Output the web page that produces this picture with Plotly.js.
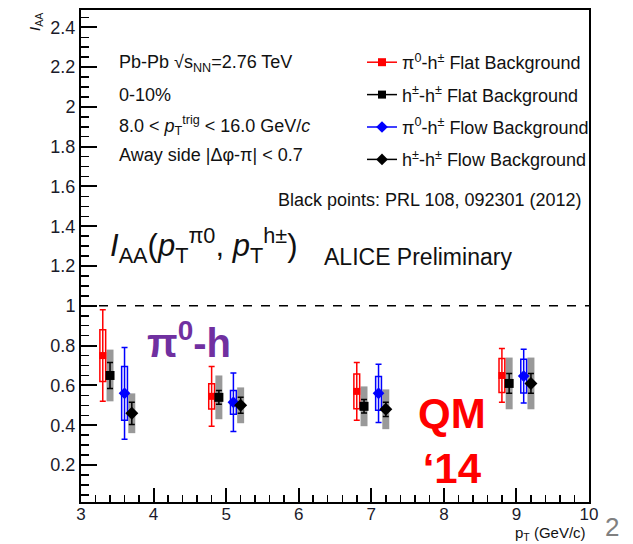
<!DOCTYPE html>
<html>
<head>
<meta charset="utf-8">
<script src="https://cdn.plot.ly/plotly-3.0.1.min.js"></script>
<style>html,body{margin:0;padding:0;background:#fff;}#plot{width:633px;height:544px;}</style>
</head>
<body>
<div id="plot"></div>
<script>
// ---- data ----
const xPiFlat = [3.3, 4.8, 6.8, 8.8];
const yPiFlat = [0.75, 0.545, 0.57, 0.650];
const statPiFlat = [0.23, 0.15, 0.145, 0.135];
const sysPiFlat = [0.13, 0.063, 0.087, 0.085];

const xHFlat = [3.4, 4.9, 6.9, 8.9];
const yHFlat = [0.65, 0.54, 0.495, 0.61];
const statHFlat = [0.065, 0.035, 0.034, 0.05];
const sysHFlat = [0.13, 0.11, 0.10, 0.13];

const xPiFlow = [3.6, 5.1, 7.1, 9.1];
const yPiFlow = [0.56, 0.515, 0.56, 0.647];
const statPiFlow = [0.23, 0.147, 0.147, 0.135];
const sysPiFlow = [0.135, 0.06, 0.085, 0.085];

const xHFlow = [3.7, 5.2, 7.2, 9.2];
const yHFlow = [0.46, 0.50, 0.48, 0.61];
const statHFlow = [0.056, 0.04, 0.036, 0.05];
const sysHFlow = [0.10, 0.09, 0.10, 0.13];

const refLevel = 1;
const seriesNames = [
  'π<sup>0</sup>-h<sup>±</sup> Flat Background',
  'h<sup>±</sup>-h<sup>±</sup> Flat Background',
  'π<sup>0</sup>-h<sup>±</sup> Flow Background',
  'h<sup>±</sup>-h<sup>±</sup> Flow Background'
];

// ---- geometry helpers (plot area pixels -> paper) ----
const L = 81, R = 44, T = 10, B = 42, W = 633, H = 544;
const PW = W - L - R, PH = H - T - B;
const px = v => (v - L) / PW;
const py = v => (H - B - v) / PH;

const FONT = 'Liberation Sans, Arial, Helvetica, sans-serif';
const RED = '#ff0000', BLUE = '#0000ff', BLACK = '#000000', GRAY = '#999999';

function sysBox(x, y, sys, fill, line, lw, width) {
  return {
    type: 'bar', x: x, y: sys.map(s => 2 * s), base: y.map((v, i) => v - sys[i]),
    width: width, marker: {color: fill, line: {color: line, width: lw}},
    showlegend: false, hoverinfo: 'skip'
  };
}
function pts(x, y, stat, color, symbol, size) {
  return {
    type: 'scatter', mode: 'markers', x: x, y: y,
    marker: {color: color, symbol: symbol, size: size},
    error_y: {type: 'data', array: stat, color: color, thickness: 1.5, width: 3},
    showlegend: false, hoverinfo: 'skip'
  };
}
function legendEntry(name, color, symbol, size, g) {
  return {
    type: 'scatter', mode: 'lines+markers', x: [null], y: [null], name: name,
    legendgroup: g, line: {color: color, width: 1.5},
    marker: {color: color, symbol: symbol, size: size}
  };
}

const data = [
  sysBox(xHFlat, yHFlat, sysHFlat, GRAY, GRAY, 0, 0.096),
  sysBox(xHFlow, yHFlow, sysHFlow, GRAY, GRAY, 0, 0.096),
  sysBox(xPiFlat, yPiFlat, sysPiFlat, 'rgba(0,0,0,0)', RED, 1.5, 0.08),
  sysBox(xPiFlow, yPiFlow, sysPiFlow, 'rgba(0,0,0,0)', BLUE, 1.5, 0.08),
  pts(xPiFlat, yPiFlat, statPiFlat, RED, 'square', 7),
  pts(xHFlat, yHFlat, statHFlat, BLACK, 'square', 9),
  pts(xPiFlow, yPiFlow, statPiFlow, BLUE, 'diamond', 9),
  pts(xHFlow, yHFlow, statHFlow, BLACK, 'diamond', 10),
  legendEntry(seriesNames[0], RED, 'square', 8, 'a'),
  legendEntry(seriesNames[1], BLACK, 'square', 8, 'b'),
  legendEntry(seriesNames[2], BLUE, 'diamond', 9, 'c'),
  legendEntry(seriesNames[3], BLACK, 'diamond', 9, 'd')
];

function ann(text, x, y, xa, size, extra) {
  return Object.assign({
    text: text, xref: 'paper', yref: 'paper', x: px(x), y: py(y),
    xanchor: xa, yanchor: 'middle', showarrow: false,
    font: {family: FONT, size: size, color: '#111'}
  }, extra || {});
}

const layout = {
  width: W, height: H,
  margin: {l: L, r: R, t: T, b: B, pad: 0},
  paper_bgcolor: '#fff', plot_bgcolor: '#fff',
  barmode: 'overlay',
  font: {family: FONT, color: '#111'},
  xaxis: {
    range: [3, 10], dtick: 1, tick0: 0, ticks: 'inside', ticklen: 14, tickwidth: 2,
    tickcolor: '#000', showgrid: false, zeroline: false,
    showline: true, linecolor: '#000', linewidth: 2, mirror: true,
    tickfont: {size: 17, color: '#1a1a2a'}, ticklabelstandoff: -4,
    minor: {dtick: 0.2, ticks: 'inside', ticklen: 7, tickwidth: 1.5, tickcolor: '#000', showgrid: false}
  },
  yaxis: {
    range: [0.014, 2.487], dtick: 0.2, tick0: 0, ticks: 'inside', ticklen: 16, tickwidth: 2,
    tickcolor: '#000', showgrid: false, zeroline: false,
    showline: true, linecolor: '#000', linewidth: 2, mirror: true,
    tickfont: {size: 18, color: '#1a1a2a'},
    minor: {dtick: 0.05, ticks: 'inside', ticklen: 8, tickwidth: 1.5, tickcolor: '#000', showgrid: false}
  },
  showlegend: true,
  legend: {
    x: px(362), y: py(44), xanchor: 'left', yanchor: 'top',
    bgcolor: 'rgba(0,0,0,0)', borderwidth: 0,
    font: {family: FONT, size: 18, color: '#111'},
    tracegroupgap: 6, itemwidth: 30
  },
  shapes: [{
    type: 'line', xref: 'paper', x0: 0, x1: 1, yref: 'y', y0: refLevel, y1: refLevel,
    line: {color: '#000', width: 1.5, dash: 'dash'}
  }],
  annotations: [
    ann('Pb-Pb √s<sub>NN</sub>=2.76 TeV', 117, 64, 'left', 18),
    ann('0-10%', 117, 95, 'left', 18),
    ann('8.0 < <i>p</i><sub>T</sub><sup>trig</sup> < 16.0 GeV/<i>c</i>', 117, 125, 'left', 18),
    ann('Away side |Δφ-π| < 0.7', 117, 155, 'left', 18),
    ann('Black points: PRL 108, 092301 (2012)', 584, 200, 'right', 18),
    ann('<i>I</i><sub>AA</sub>(<i>p</i><sub>T</sub><sup>π0</sup>, <i>p</i><sub>T</sub><sup>h±</sup>)', 108, 246, 'left', 31),
    ann('ALICE Preliminary', 322, 257, 'left', 23),
    ann('<i>I</i><sub>AA</sub>', 35, 22, 'center', 15, {textangle: -90}),
    ann('p<sub>T</sub> (GeV/c)', 588, 533, 'right', 15),
    ann('<b>π<sup>0</sup>-h</b>', 145, 340, 'left', 40, {font: {family: FONT, size: 40, color: '#7030a0'}}),
    ann('<b>QM<br>‘14</b>', 452, 441, 'center', 42, {font: {family: FONT, size: 42, color: '#ff0000'}}),
    ann('2', 612, 527, 'center', 26, {font: {family: FONT, size: 26, color: '#808080'}})
  ]
};

Plotly.newPlot('plot', data, layout, {staticPlot: true, displayModeBar: false});
</script>
</body>
</html>
